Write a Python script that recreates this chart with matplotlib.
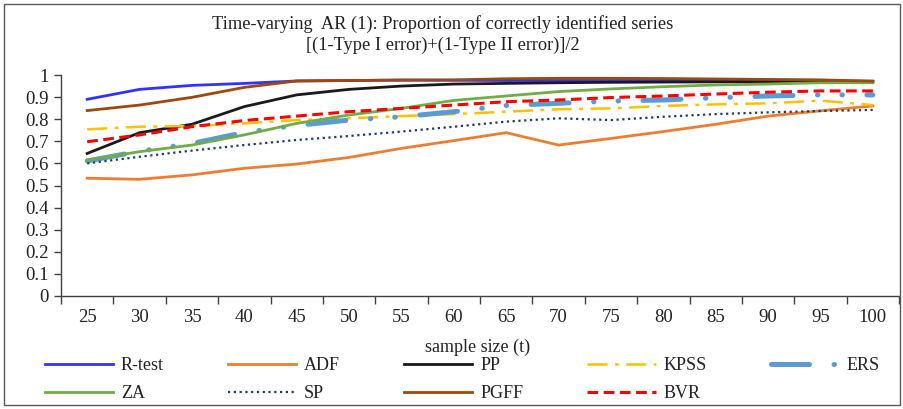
import matplotlib
matplotlib.use("Agg")
import matplotlib.pyplot as plt
from matplotlib.patches import Rectangle
from matplotlib.ticker import FixedLocator, NullFormatter

plt.rcParams["font.family"] = ["Liberation Serif", "DejaVu Serif"]

sizes = ["25", "30", "35", "40", "45", "50", "55", "60", "65", "70", "75", "80", "85", "90", "95", "100"]

r_test = [0.89, 0.935, 0.953, 0.962, 0.973, 0.975, 0.977, 0.976, 0.975, 0.975, 0.975, 0.975, 0.975, 0.975, 0.974, 0.972]
adf = [0.533, 0.528, 0.548, 0.578, 0.597, 0.627, 0.668, 0.703, 0.739, 0.683, 0.713, 0.744, 0.777, 0.814, 0.838, 0.86]
pp = [0.645, 0.739, 0.777, 0.857, 0.91, 0.935, 0.95, 0.959, 0.962, 0.965, 0.967, 0.968, 0.969, 0.97, 0.97, 0.97]
kpss = [0.754, 0.766, 0.769, 0.781, 0.796, 0.804, 0.814, 0.823, 0.834, 0.845, 0.849, 0.86, 0.867, 0.872, 0.884, 0.864]
ers = [0.611, 0.655, 0.69, 0.74, 0.772, 0.796, 0.811, 0.834, 0.862, 0.872, 0.882, 0.887, 0.897, 0.905, 0.91, 0.91]
za = [0.615, 0.653, 0.683, 0.729, 0.781, 0.819, 0.849, 0.885, 0.905, 0.925, 0.937, 0.947, 0.955, 0.959, 0.965, 0.965]
sp = [0.6, 0.63, 0.658, 0.683, 0.706, 0.724, 0.744, 0.766, 0.789, 0.804, 0.796, 0.811, 0.823, 0.831, 0.837, 0.842]
pgff = [0.839, 0.864, 0.899, 0.944, 0.973, 0.975, 0.977, 0.978, 0.983, 0.985, 0.985, 0.984, 0.982, 0.98, 0.978, 0.972]
bvr = [0.698, 0.729, 0.766, 0.794, 0.814, 0.834, 0.849, 0.864, 0.879, 0.887, 0.898, 0.905, 0.914, 0.922, 0.928, 0.928]

y_ticks = [0, 0.1, 0.2, 0.3, 0.4, 0.5, 0.6, 0.7, 0.8, 0.9, 1]
y_labels = ["0", "0.1", "0.2", "0.3", "0.4", "0.5", "0.6", "0.7", "0.8", "0.9", "1"]

fig = plt.figure(figsize=(9.04, 4.09), dpi=100)
ax = fig.add_axes([61 / 904, 1 - 296 / 409, (899 - 61) / 904, (296 - 75) / 409])

x = list(range(len(sizes)))
lines = {}
lines["R-test"] = ax.plot(x, r_test, color="#3232ff", lw=2.0)[0]
lines["ADF"] = ax.plot(x, adf, color="#ed7d31", lw=2.0)[0]
lines["PP"] = ax.plot(x, pp, color="#1a1a1a", lw=2.0)[0]
lines["KPSS"] = ax.plot(x, kpss, color="#ffc000", lw=1.8,
                        ls=(0, (8, 3, 1.5, 3)))[0]
lines["ERS"] = ax.plot(x, ers, color="#5b9bd5", lw=3.6,
                       ls=(0, (7.6, 4.9, 0.1, 4.8, 0.1, 4.9)),
                       dash_capstyle="round")[0]
lines["ZA"] = ax.plot(x, za, color="#70ad47", lw=2.0)[0]
lines["SP"] = ax.plot(x, sp, color="#1f3a6e", lw=1.6, ls=(0, (1, 1.6)))[0]
lines["PGFF"] = ax.plot(x, pgff, color="#9e480e", lw=2.0)[0]
lines["BVR"] = ax.plot(x, bvr, color="#ff0000", lw=2.2, ls=(0, (3.5, 1.8)))[0]

ax.set_xlim(-0.5, len(sizes) - 0.5)
ax.set_ylim(0, 1)
for s in ["top", "right"]:
    ax.spines[s].set_visible(False)
for s in ["left", "bottom"]:
    ax.spines[s].set_color("#404040")
    ax.spines[s].set_linewidth(1.0)

# ticks sit between categories, labels on the categories
ax.xaxis.set_major_locator(FixedLocator([i - 0.5 for i in range(len(sizes) + 1)]))
ax.xaxis.set_major_formatter(NullFormatter())
ax.set_xticks(x, minor=True)
ax.set_xticklabels(sizes, minor=True)
ax.tick_params(axis="x", which="major", length=6, width=1, color="#404040")
ax.tick_params(axis="x", which="minor", length=0, pad=9, labelsize=13.5, labelcolor="#222222")
ax.set_yticks(y_ticks)
ax.set_yticklabels(y_labels)
ax.tick_params(axis="y", length=5, width=1, color="#404040", pad=4, labelsize=13.5, labelcolor="#222222")

fig.text(443 / 904, 1 - 24 / 409, "Time-varying  AR (1): Proportion of correctly identified series",
         ha="center", va="center", fontsize=13.2, color="#222222")
fig.text(443 / 904, 1 - 45 / 409, "[(1-Type I error)+(1-Type II error)]/2",
         ha="center", va="center", fontsize=13.2, color="#222222")
fig.text(478 / 904, 1 - 347 / 409, "sample size (t)", ha="center", va="center",
         fontsize=13, color="#222222")

order = ["R-test", "ZA", "ADF", "SP", "PP", "PGFF", "KPSS", "BVR", "ERS"]
fig.legend([lines[k] for k in order], order, loc="upper left",
           bbox_to_anchor=(45 / 904, 0, (880 - 45) / 904, 1 - 357 / 409),
           bbox_transform=fig.transFigure, mode="expand", ncol=5, frameon=False,
           fontsize=13, handlelength=3.77, handletextpad=0.44, borderpad=0,
           borderaxespad=0, labelspacing=0.62, labelcolor="#222222")

fig.patches.append(Rectangle((4 / 904, 4 / 409), 896 / 904, 401 / 409, transform=fig.transFigure,
                             fill=False, edgecolor="#595959", lw=1.0))

fig.savefig("out.png", dpi=100)
